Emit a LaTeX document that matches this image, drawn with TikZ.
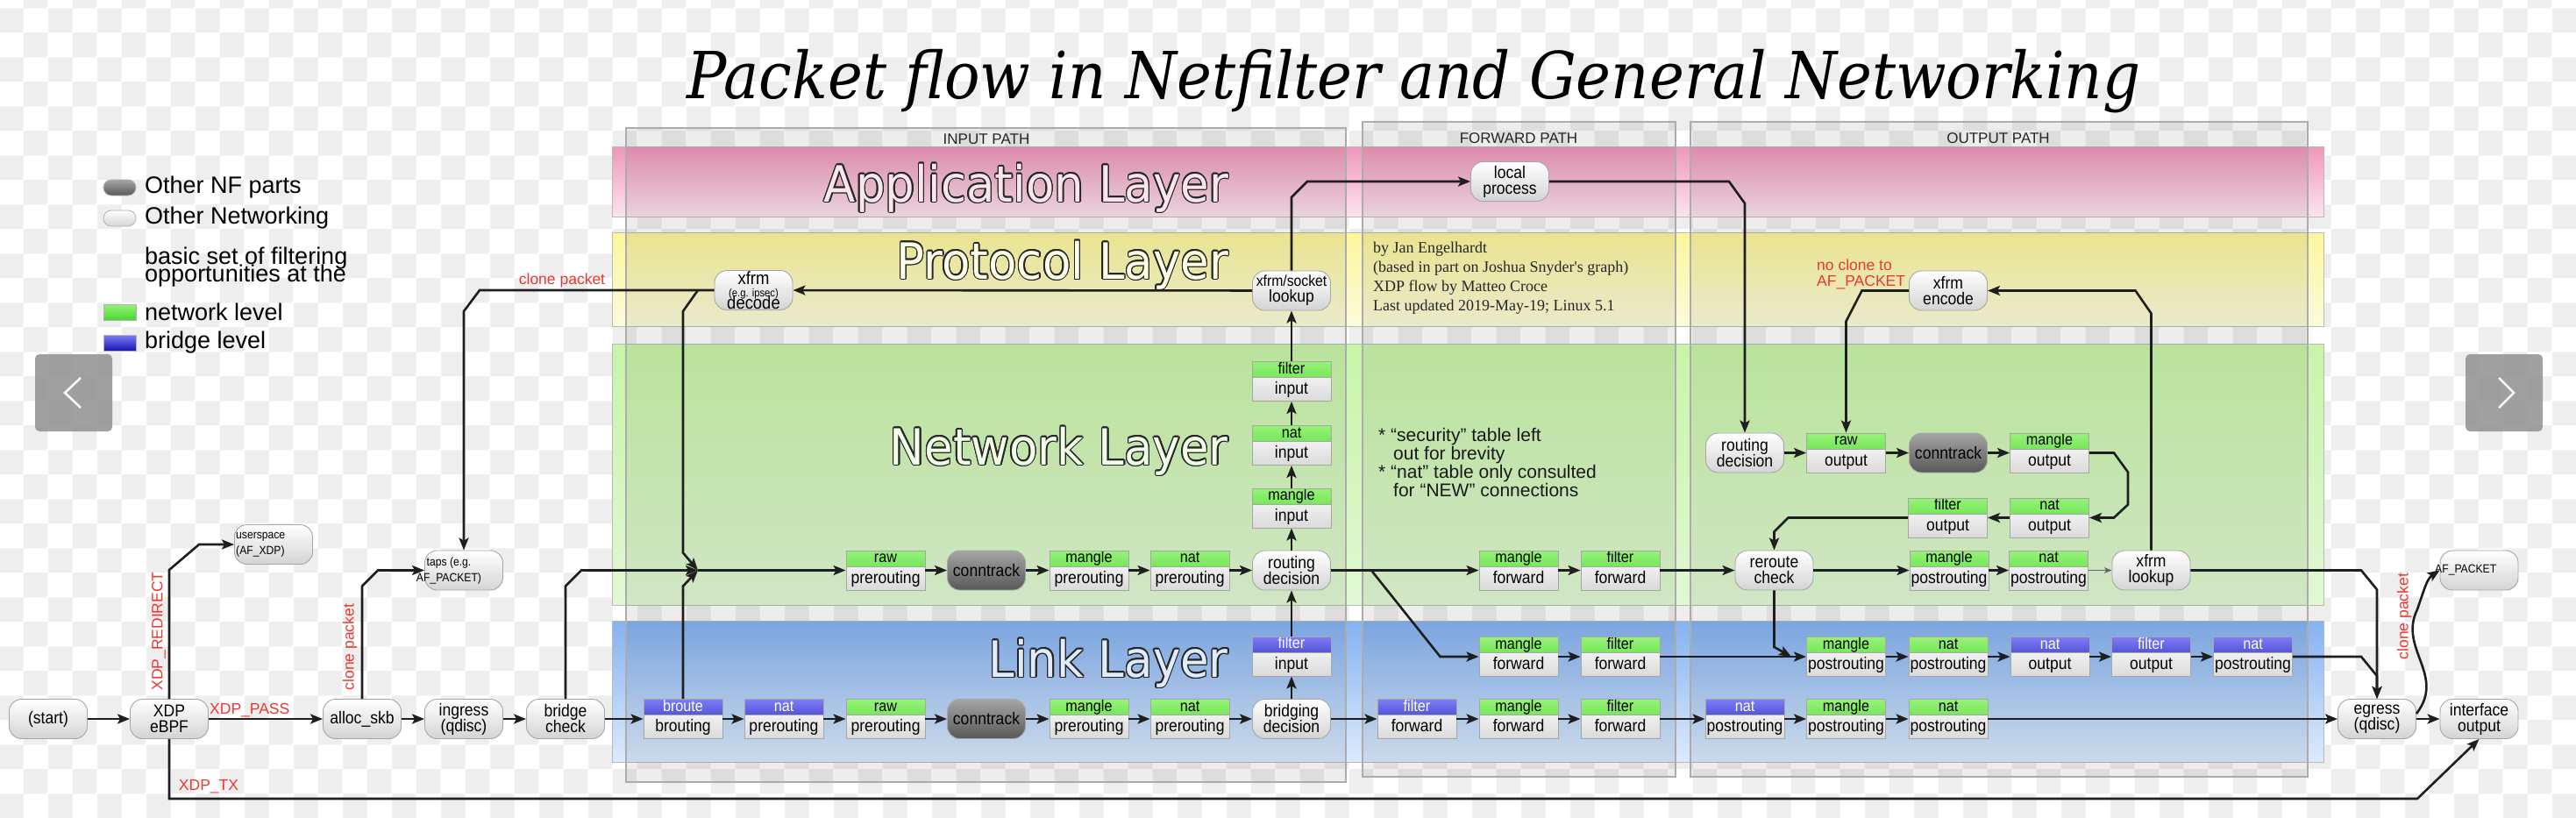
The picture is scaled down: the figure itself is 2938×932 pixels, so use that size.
\documentclass[tikz,border=0pt]{standalone}
\usepackage{fontspec}
\setmainfont{Liberation Sans}[FakeStretch=0.9]
\newfontfamily\widefont{Liberation Sans}
\newfontfamily\creditfont{Liberation Serif}
\newfontfamily\layerfont{DejaVu Sans}[FakeStretch=0.93]
\newfontfamily\titlefont{DejaVu Serif}[FakeStretch=0.91]
\usepackage[copies]{contour}
\contourlength{1.4pt}
\usetikzlibrary{arrows.meta, calc, patterns.meta}

\definecolor{chk}{RGB}{238,238,238}
\definecolor{appT}{RGB}{238,150,185}
\definecolor{appB}{RGB}{252,228,240}
\definecolor{proT}{RGB}{252,246,155}
\definecolor{proB}{RGB}{252,252,220}
\definecolor{netT}{RGB}{200,245,168}
\definecolor{netB}{RGB}{225,248,212}
\definecolor{lnkT}{RGB}{132,178,242}
\definecolor{lnkB}{RGB}{220,235,252}
\definecolor{pillbot}{RGB}{212,212,212}
\definecolor{bodybot}{RGB}{218,218,218}
\definecolor{nftop}{RGB}{165,165,165}
\definecolor{nfbot}{RGB}{88,88,88}
\definecolor{hgtop}{RGB}{150,242,120}
\definecolor{hgbot}{RGB}{72,215,45}
\definecolor{hbtop}{RGB}{125,125,245}
\definecolor{hbbot}{RGB}{22,22,178}
\definecolor{lblred}{RGB}{236,56,48}
\definecolor{navgray}{RGB}{150,150,150}
\definecolor{flowcol}{RGB}{30,30,30}

\newcommand{\tightlines}{\lineskiplimit=-100pt\relax}

\tikzdeclarepattern{
  name=checker, type=uncolored,
  bottom left={(0pt,0pt)}, top right={(56pt,56pt)},
  tile size={(56pt,56pt)},
  code={
    \fill (0pt,0pt) rectangle (28pt,28pt);
    \fill (28pt,28pt) rectangle (56pt,56pt);
  }
}

\begin{document}
\begin{tikzpicture}[x=1pt, y=-1pt,
    pill/.style={rectangle, rounded corners=14pt, draw=gray!70, line width=0.9pt, top color=white, bottom color=pillbot, minimum width=89pt, minimum height=45pt, inner sep=0pt, align=center, font=\fontsize{19.5}{18}\selectfont\tightlines},
    nfpill/.style={pill, top color=nftop, bottom color=nfbot},
    hdr/.style={inner sep=0pt, text height=13pt, text depth=3.5pt, font=\fontsize{18}{18}\selectfont},
    tbl/.style={rectangle, draw=gray!70, line width=0.9pt, top color=white, bottom color=bodybot, minimum width=90pt, minimum height=45pt, inner sep=0pt, text height=36pt, text depth=6.6pt, font=\fontsize{19.5}{19.5}\selectfont},
    tblg/.style={tbl, path picture={
        \shade[top color=hgtop, bottom color=hgbot] (path picture bounding box.north west) rectangle ([yshift=-18pt]path picture bounding box.north east);
        \draw[gray!70, line width=0.6pt] ([yshift=-18pt]path picture bounding box.north west) -- ([yshift=-18pt]path picture bounding box.north east);
        \node[hdr] at ([yshift=-9pt]path picture bounding box.north) {#1};}},
    tblb/.style={tbl, path picture={
        \shade[top color=hbtop, bottom color=hbbot] (path picture bounding box.north west) rectangle ([yshift=-18pt]path picture bounding box.north east);
        \draw[gray!70, line width=0.6pt] ([yshift=-18pt]path picture bounding box.north west) -- ([yshift=-18pt]path picture bounding box.north east);
        \node[hdr, text=white] at ([yshift=-9pt]path picture bounding box.north) {#1};}},
    smalltxt/.style={inner sep=0pt, align=left, font=\fontsize{13.5}{18}\selectfont\tightlines},
    flow/.style={->, >={Stealth[length=14pt, width=11pt, inset=3pt]}, line width=2.6pt, draw=flowcol},
    thinflow/.style={->, >={Stealth[length=9pt, width=7pt]}, line width=1pt, draw=gray!80!black},
    redlbl/.style={text=lblred, inner sep=1pt, font=\widefont\fontsize{17.5}{18}\selectfont\tightlines},
    band/.style={draw=gray!55, line width=1pt},
    frame/.style={draw=gray!65, line width=1.2pt, fill=black, fill opacity=0.07},
    pathlbl/.style={inner sep=0pt, text=black!85, font=\widefont\fontsize{17}{17}\selectfont},
    layer/.style={inner sep=0pt, anchor=base east, font=\layerfont\fontsize{57}{57}\selectfont},
    legtxt/.style={anchor=west, inner sep=0pt, font=\widefont\fontsize{27}{20}\selectfont\tightlines},
    legbox/.style={rectangle, draw=gray!60, line width=0.8pt, minimum width=37pt, minimum height=18pt, inner sep=0pt},
    legpill/.style={legbox, rounded corners=9pt},
    navbtn/.style={rectangle, rounded corners=5pt, fill=navgray, fill opacity=0.9, minimum width=88pt, minimum height=88pt},
    chev/.style={white, line width=2.5pt}
]
    \useasboundingbox (0,0) rectangle (2938,932);

    % Background
    \fill[white] (0,0) rectangle (2938,932);
    \fill[pattern=checker, pattern color=chk] (0,0) rectangle (2938,932);

    % Title
    \node[anchor=base west, inner sep=0pt, font=\titlefont\itshape\fontsize{74}{74}\selectfont] (title) at (783,112) {Packet flow in Netfilter and General Networking};

    % Layers
    \shadedraw[band, top color=appT, bottom color=appB] (698,167) rectangle (2650,247);
    \shadedraw[band, top color=proT, bottom color=proB] (698,265) rectangle (2650,372);
    \shadedraw[band, top color=netT, bottom color=netB] (698,392) rectangle (2650,690);
    \shadedraw[band, top color=lnkT, bottom color=lnkB] (698,708) rectangle (2650,869);

    % Paths
    \filldraw[frame] (714,146) rectangle (1535,892);
    \filldraw[frame] (1554,139) rectangle (1911,886);
    \filldraw[frame] (1928,139) rectangle (2632,886);
    \node[pathlbl] (inlbl) at (1125,159) {INPUT PATH};
    \node[pathlbl] (fwdlbl) at (1732,158) {FORWARD PATH};
    \node[pathlbl] (outlbl) at (2279,158) {OUTPUT PATH};

    % Layer names
    \node[layer, text=white!75!appT] (applbl) at (1401,230) {\contour{black!85}{Application Layer}};
    \node[layer, text=white!75!proT] (prolbl) at (1401,318) {\contour{black!85}{Protocol Layer}};
    \node[layer, text=white!75!netT] (netlbl) at (1401,530) {\contour{black!85}{Network Layer}};
    \node[layer, text=white!75!lnkT] (lnklbl) at (1401,772) {\contour{black!85}{Link Layer}};

    % Notes
    \node[anchor=north west, inner sep=0pt, align=left, text=black!85, font=\creditfont\fontsize{18}{22}\selectfont] (credit) at (1566,276) {by Jan Engelhardt\\(based in part on Joshua Snyder's graph)\\XDP flow by Matteo Croce\\Last updated 2019-May-19; Linux 5.1};
    \node[anchor=north west, inner sep=0pt, align=left, text=black!90, font=\widefont\fontsize{21}{21}\selectfont\tightlines] (notes) at (1572,488) {* “security” table left\\\hspace*{17pt}out for brevity\\* “nat” table only consulted\\\hspace*{17pt}for “NEW” connections};
    \node[redlbl, anchor=west, align=left] (noclone) at (2071,313) {no clone to\\AF\_PACKET};

    % Legend
    \node[legpill, top color=nftop, bottom color=nfbot] (legnf) at (136.5,214) {};
    \node[legtxt] (legnftxt) at (165,214) {Other NF parts};
    \node[legpill, top color=white, bottom color=pillbot] (legnw) at (136.5,249) {};
    \node[legtxt] (legnwtxt) at (165,249) {Other Networking};
    \node[legtxt, anchor=north west, align=left] (legbasic) at (165,282) {basic set of filtering\\opportunities at the};
    \node[legbox, top color=hgtop, bottom color=hgbot] (leggreen) at (136.5,356) {};
    \node[legtxt] (leggreentxt) at (165,356) {network level};
    \node[legbox, top color=hbtop, bottom color=hbbot] (legblue) at (136.5,391) {};
    \node[legtxt] (legbluetxt) at (165,391) {bridge level};

    % Navigation
    \node[navbtn] (navl) at (84,448) {};
    \draw[chev] ([xshift=8pt,yshift=17pt]navl.center) -- ([xshift=-10pt]navl.center) -- ([xshift=8pt,yshift=-17pt]navl.center);
    \node[navbtn] (navr) at (2856,448) {};
    \draw[chev] ([xshift=-6pt,yshift=17pt]navr.center) -- ([xshift=11pt]navr.center) -- ([xshift=-6pt,yshift=-17pt]navr.center);

    % Ingress nodes
    \node[pill] (start) at (55,820) {(start)};
    \node[pill] (xdp) at (193,820) {XDP\\eBPF};
    \node[pill] (alloc) at (413,820) {alloc\_skb};
    \node[pill] (ingress) at (529,820) {ingress\\(qdisc)};
    \node[pill] (bcheck) at (645,820) {bridge\\check};
    \node[pill] (usp) at (312,621) {};
    \node[smalltxt, anchor=west] (usptxt) at (269,621) {userspace\\(AF\_XDP)};
    \node[pill] (taps) at (529,650.5) {};
    \node[smalltxt, align=center] (tapstxt) at (512,650.5) {taps (e.g.\\AF\_PACKET)};

    % Link layer
    \node[tblb=broute] (broute) at (779,820) {brouting};
    \node[tblb=nat] (bnatpre) at (894,820) {prerouting};
    \node[tblg=raw] (lrawpre) at (1010,820) {prerouting};
    \node[nfpill] (lct) at (1125,820) {conntrack};
    \node[tblg=mangle] (lmanglepre) at (1242,820) {prerouting};
    \node[tblg=nat] (lnatpre) at (1357,820) {prerouting};
    \node[pill] (bdec) at (1473,820) {bridging\\decision};
    \node[tblb=filter] (bfilterin) at (1473,748.5) {input};
    \node[tblb=filter] (bfilterfwd) at (1616,820) {forward};
    \node[tblg=mangle] (lmanglefwd) at (1732,820) {forward};
    \node[tblg=filter] (lfilterfwd) at (1848,820) {forward};
    \node[tblb=nat] (bnatpostl) at (1990,820) {postrouting};
    \node[tblg=mangle] (lmanglepost) at (2105.5,820) {postrouting};
    \node[tblg=nat] (lnatpost) at (2222,820) {postrouting};
    \node[pill] (egress) at (2711,820) {egress\\(qdisc)};
    \node[pill] (ifout) at (2827.5,820) {interface\\output};
    \node[tblg=mangle] (mmanglefwd) at (1732,749) {forward};
    \node[tblg=filter] (mfilterfwd) at (1848,749) {forward};
    \node[tblg=mangle] (mmanglepost) at (2105.5,749) {postrouting};
    \node[tblg=nat] (mnatpost) at (2222,749) {postrouting};
    \node[tblb=nat] (bnatout) at (2338,749) {output};
    \node[tblb=filter] (bfilterout) at (2453.5,749) {output};
    \node[tblb=nat] (bnatpost) at (2569.5,749) {postrouting};

    % Network layer
    \coordinate (merge) at (796,650.5);
    \coordinate (fwdsplit) at (1564,650.5);
    \node[tblg=raw] (nrawpre) at (1010,650.5) {prerouting};
    \node[nfpill] (nct) at (1125,650.5) {conntrack};
    \node[tblg=mangle] (nmanglepre) at (1242,650.5) {prerouting};
    \node[tblg=nat] (nnatpre) at (1357,650.5) {prerouting};
    \node[pill] (rdin) at (1473,650.5) {routing\\decision};
    \node[tblg=mangle] (mangleinp) at (1473,579.5) {input};
    \node[tblg=nat] (natinp) at (1473,508) {input};
    \node[tblg=filter] (filterinp) at (1473,435) {input};
    \node[tblg=mangle] (nmanglefwd) at (1732,650.5) {forward};
    \node[tblg=filter] (nfilterfwd) at (1848,650.5) {forward};
    \node[pill] (reroute) at (2023.5,650.5) {reroute\\check};
    \node[tblg=mangle] (nmanglepost) at (2223,650.5) {postrouting};
    \node[tblg=nat] (nnatpost) at (2336.5,650.5) {postrouting};
    \node[pill] (xlookup) at (2453.5,650.5) {xfrm\\lookup};
    \node[pill] (afpkt) at (2827.5,650.5) {};
    \node[smalltxt, anchor=west] (afpkttxt) at (2777,650.5) {AF\_PACKET};
    \node[pill] (rdout) at (1990,516.5) {routing\\decision};
    \node[tblg=raw] (rawout) at (2105.5,516.5) {output};
    \node[nfpill] (ctout) at (2222,516.5) {conntrack};
    \node[tblg=mangle] (mangleout) at (2337.5,516.5) {output};
    \node[tblg=nat] (natout) at (2337.5,590.5) {output};
    \node[tblg=filter] (filterout) at (2221.5,590.5) {output};

    % Protocol and application layer
    \node[pill] (lookup) at (1473,331.5) {{\fontsize{17.5}{18}\selectfont xfrm/socket}\\lookup};
    \node[pill, font=\fontsize{20.5}{14}\selectfont\tightlines] (decode) at (859.5,331) {xfrm\\{\fontsize{12.5}{14}\selectfont (e.g. ipsec)}\\decode};
    \node[pill] (encode) at (2222,331.5) {xfrm\\encode};
    \node[pill] (local) at (1722,207) {local\\process};

    % XDP flow
    \draw[flow] (start) -- (xdp);
    \draw[flow] (xdp) -- node[redlbl, above, pos=0.36] (passlbl) {XDP\_PASS} (alloc);
    \draw[flow] (xdp.north) -- ($(xdp.north |- usp.west)+(0,29)$) -- ($(xdp.north |- usp.west)+(34,0)$) -- (usp.west);
    \node[redlbl, rotate=90] (redirlbl) at (181,720) {XDP\_REDIRECT};
    \coordinate (txbend) at (2757,911);
    \draw[flow] (xdp.south) |- (txbend) -- (ifout.south);
    \node[redlbl] (txlbl) at (238,897) {XDP\_TX};

    % Ingress flow
    \draw[flow] (alloc.north) -- ($(alloc.north |- taps.west)+(0,18)$) -- ($(alloc.north |- taps.west)+(18,0)$) -- (taps.west);
    \node[redlbl, rotate=90] (clonelbl) at (399,738) {clone packet};
    \draw[flow] (alloc) -- (ingress);
    \draw[flow] (ingress) -- (bcheck);
    \draw[flow] (bcheck.north) -- ($(bcheck.north |- merge)+(0,18)$) -- ($(bcheck.north |- merge)+(18,0)$) -- (merge);
    \draw[flow] (broute.north) -- ($(broute.north |- merge)+(0,18)$) -- (merge);
    \draw[flow] (decode.west) -- ($(taps.north |- decode.west)+(18,0)$) -- ($(taps.north |- decode.west)+(0,24)$) -- (taps.north);
    \node[redlbl] (clonelbl2) at (641,320) {clone packet};
    \draw[flow] (merge |- decode.west) -- ($(merge |- decode.west)+(-17,24)$) -- ($(merge)+(-17,-20)$) -- (merge);

    % Network prerouting and input
    \draw[flow] (merge) -- (nrawpre);
    \draw[flow] (nrawpre) -- (nct);
    \draw[flow] (nct) -- (nmanglepre);
    \draw[flow] (nmanglepre) -- (nnatpre);
    \draw[flow] (nnatpre) -- (rdin);
    \draw[flow] (rdin) -- (mangleinp);
    \draw[flow] (mangleinp) -- (natinp);
    \draw[flow] (natinp) -- (filterinp);
    \draw[flow] (filterinp) -- (lookup);
    \draw[flow] (lookup) -- (decode);
    \draw[flow] (lookup.north) -- ($(lookup.north |- local.west)+(0,18)$) -- ($(lookup.north |- local.west)+(18,0)$) -- (local.west);

    % Local output
    \draw[flow] (local.east) -- ($(rdout.north |- local.east)+(-18,0)$) -- ($(rdout.north |- local.east)+(0,25)$) -- (rdout.north);
    \draw[flow] (rdout) -- (rawout);
    \draw[flow] (rawout) -- (ctout);
    \draw[flow] (ctout) -- (mangleout);
    \draw[flow] (mangleout.east) -- ++(28,0) -- ++(16,22) -- ++(0,37) -- ($(natout.east)+(28,0)$) -- (natout.east);
    \draw[flow] (natout) -- (filterout);
    \draw[flow] (filterout.west) -- ($(reroute.north |- filterout.west)+(16,0)$) -- ($(reroute.north |- filterout.west)+(0,16)$) -- (reroute.north);
    \draw[flow] (encode.west) -- ($(rawout.north |- encode.west)+(18,0)$) -- ($(rawout.north |- encode.west)+(0,35)$) -- (rawout.north);
    \draw[flow] (xlookup.north) -- ($(xlookup.north |- encode.east)+(0,26)$) -- ($(xlookup.north |- encode.east)+(-18,0)$) -- (encode.east);

    % Forward and postrouting
    \draw[flow] (rdin) -- (nmanglefwd);
    \draw[flow] (nmanglefwd) -- (nfilterfwd);
    \draw[flow] (nfilterfwd) -- (reroute);
    \draw[flow] (reroute) -- (nmanglepost);
    \draw[flow] (nmanglepost) -- (nnatpost);
    \draw[thinflow] (nnatpost) -- (xlookup);
    \draw[flow] (xlookup.east) -- ($(egress.north |- xlookup.east)+(-18,0)$) -- ($(egress.north |- xlookup.east)+(0,22)$) -- (egress.north);
    \draw[flow] (fwdsplit) -- ($(mmanglefwd.west)+(-44,0)$) -- (mmanglefwd.west);
    \draw[flow] (mmanglefwd) -- (mfilterfwd);
    \draw[flow] (mfilterfwd) -- (mmanglepost);
    \coordinate (rrjoin) at ($(mmanglepost.west)+(-17,0)$);
    \draw[flow] (reroute.south) -- ($(reroute.south |- rrjoin)+(0,-11)$) -- (rrjoin);
    \draw[flow] (mmanglepost) -- (mnatpost);
    \draw[flow] (mnatpost) -- (bnatout);
    \draw[flow] (bnatout) -- (bfilterout);
    \draw[flow] (bfilterout) -- (bnatpost);
    \draw[flow] (bnatpost.east) -- ($(egress.north |- bnatpost.east)+(-18,0)$) -- ($(egress.north |- bnatpost.east)+(0,22)$) -- (egress.north);

    % Bridge flow
    \draw[flow] (bcheck) -- (broute);
    \draw[flow] (broute) -- (bnatpre);
    \draw[flow] (bnatpre) -- (lrawpre);
    \draw[flow] (lrawpre) -- (lct);
    \draw[flow] (lct) -- (lmanglepre);
    \draw[flow] (lmanglepre) -- (lnatpre);
    \draw[flow] (lnatpre) -- (bdec);
    \draw[flow] (bdec) -- (bfilterin);
    \draw[flow] (bfilterin) -- (rdin);
    \draw[flow] (bdec) -- (bfilterfwd);
    \draw[flow] (bfilterfwd) -- (lmanglefwd);
    \draw[flow] (lmanglefwd) -- (lfilterfwd);
    \draw[flow] (lfilterfwd) -- (bnatpostl);
    \draw[flow] (bnatpostl) -- (lmanglepost);
    \draw[flow] (lmanglepost) -- (lnatpost);
    \draw[flow] (lnatpost) -- (egress);

    % Egress
    \draw[flow] (egress) -- (ifout);
    \draw[flow] ([yshift=6pt]egress.east) .. controls (2790,770) and (2735,740) .. (2757,695) .. controls (2765,672) and (2768,660) .. (afpkt.west);
    \node[redlbl, rotate=90] (clonelbl3) at (2742,703) {clone packet};

\end{tikzpicture}
\end{document}
